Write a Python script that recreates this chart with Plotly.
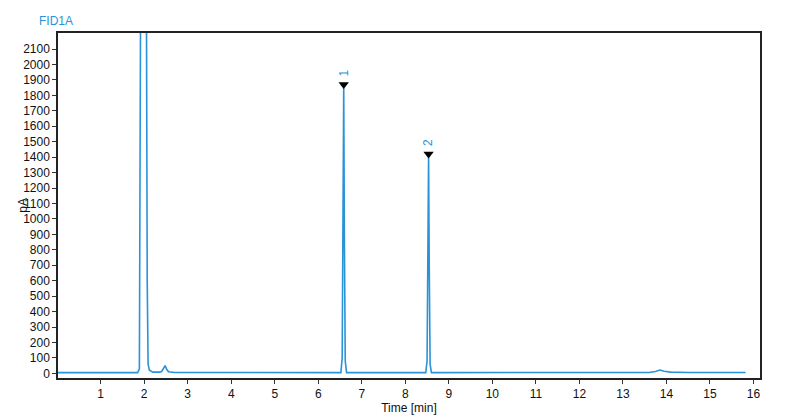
import plotly.graph_objects as go

# Chromatogram trace (time in min, signal in pA)
time_min = [0.02, 1.00, 1.85, 1.89, 1.90, 1.92, 2.00, 2.05, 2.07, 2.09, 2.12, 2.20,
            2.35, 2.40, 2.44, 2.48, 2.52, 2.56, 2.70, 4.00, 6.52, 6.55, 6.57, 6.585,
            6.60, 6.62, 6.65, 7.80, 8.47, 8.50, 8.52, 8.535, 8.55, 8.57, 8.60,
            10.0, 11.8, 13.6, 13.75, 13.85, 13.95, 14.10, 14.5, 15.0, 15.82]
signal_pA = [5, 5, 5, 30, 600, 2600, 2600, 2600, 600, 60, 20, 8,
             8, 12, 30, 50, 25, 10, 6, 6, 5, 100, 900, 1850,
             900, 80, 5, 5, 5, 80, 700, 1400, 700, 60, 5,
             5, 6, 6, 12, 22, 14, 8, 6, 6, 6]

peak_times = [6.585, 8.535]
peak_heights = [1850, 1400]
peak_labels = ["1", "2"]

x_ticks = list(range(1, 17))
y_ticks = list(range(0, 2101, 100))

blue = "#2a93d8"
font_family = "Arial, Liberation Sans, Helvetica, sans-serif"

fig = go.Figure()
fig.add_trace(go.Scatter(x=time_min, y=signal_pA, mode="lines",
                         line=dict(color=blue, width=1.6), showlegend=False,
                         hoverinfo="skip"))
fig.add_trace(go.Scatter(x=peak_times, y=[h + 20 for h in peak_heights], mode="markers",
                         marker=dict(symbol="triangle-down", size=9, color="black"),
                         showlegend=False))
for t, h, lab in zip(peak_times, peak_heights, peak_labels):
    fig.add_annotation(x=t, y=h + 60, text=lab, showarrow=False, textangle=-90,
                       yanchor="bottom", xanchor="center",
                       font=dict(color=blue, size=12, family=font_family))

fig.add_annotation(xref="paper", yref="paper", x=-0.051, y=0.5, text="pA",
                   showarrow=False, textangle=-90, xanchor="center",
                   font=dict(color="#111", size=12, family=font_family))
fig.add_annotation(xref="paper", yref="paper", x=-0.030, y=1.0, yanchor="bottom",
                   xanchor="left", yshift=3, text="FID1A", showarrow=False,
                   font=dict(color=blue, size=12, family=font_family))

fig.update_layout(
    width=792, height=412,
    margin=dict(l=50, r=40, t=25, b=42),
    paper_bgcolor="white", plot_bgcolor="white",
    font=dict(family=font_family, size=12, color="#111"),
    xaxis=dict(range=[0.02, 16.15], tickvals=x_ticks, ticks="outside", ticklen=4,
               tickcolor="#333", showline=True, linecolor="#222", linewidth=1.5,
               mirror=True, showgrid=False, zeroline=False, automargin=False,
               title=dict(text="Time [min]", standoff=3, font=dict(size=12))),
    yaxis=dict(range=[-30, 2204], tickvals=y_ticks, ticks="outside", ticklen=4,
               tickcolor="#333", showline=True, linecolor="#222", linewidth=1.5,
               mirror=True, showgrid=False, zeroline=False, automargin=False),
)

fig.write_html("out.html")
